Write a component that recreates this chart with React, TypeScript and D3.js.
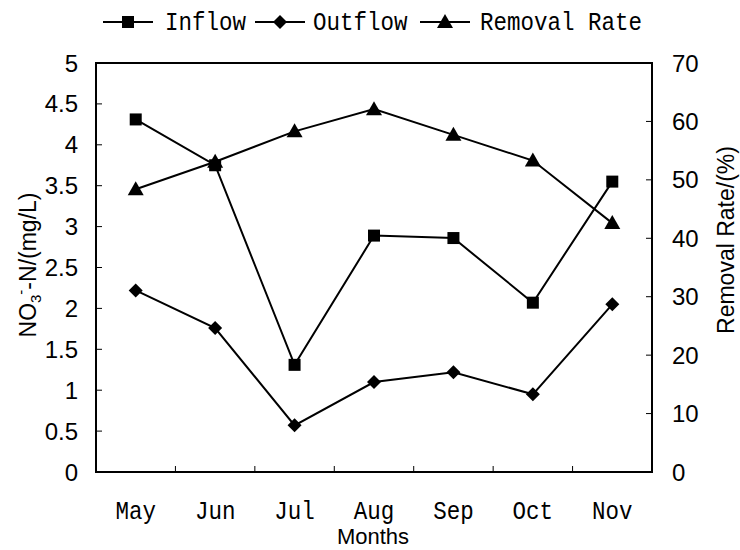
import React from "react";
import * as d3 from "d3";

const months = ["May", "Jun", "Jul", "Aug", "Sep", "Oct", "Nov"];
const inflow = [4.31, 3.75, 1.31, 2.89, 2.86, 2.07, 3.55];
const outflow = [2.22, 1.76, 0.57, 1.1, 1.22, 0.95, 2.05];
const removal = [48.4, 53.1, 58.3, 62.1, 57.7, 53.3, 42.6];
const leftTicks = [0, 0.5, 1, 1.5, 2, 2.5, 3, 3.5, 4, 4.5, 5];
const rightTicks = [0, 10, 20, 30, 40, 50, 60, 70];
const legendItems = ["Inflow", "Outflow", "Removal Rate"];

const W = 740, H = 550;
const L = 96, R = 652, T = 63, B = 472;
const monoFont = "'Liberation Mono', 'DejaVu Sans Mono', monospace";
const sansFont = "'Liberation Sans', Arial, sans-serif";

function Marker({ kind, x, y }: { kind: number; x: number; y: number }) {
  if (kind === 0) return <rect x={x - 6} y={y - 6} width={12} height={12} fill="#000" />;
  if (kind === 1) return <path d={`M${x},${y - 7}L${x + 7},${y}L${x},${y + 7}L${x - 7},${y}Z`} fill="#000" />;
  return <path d={`M${x},${y - 8}L${x + 8},${y + 6}L${x - 8},${y + 6}Z`} fill="#000" />;
}

function MonoText({ x, y, anchor, children }: { x: number; y: number; anchor?: string; children: React.ReactNode }) {
  return (
    <text transform={`translate(${x},${y}) scale(0.9,1)`} textAnchor={anchor || "start"} fontFamily={monoFont} fontSize={25} fill="#000">
      {children}
    </text>
  );
}

export default function App() {
  const x = d3.scaleBand<string>().domain(months).range([L, R]);
  const yL = d3.scaleLinear().domain([0, 5]).range([B, T]);
  const yR = d3.scaleLinear().domain([0, 70]).range([B, T]);
  const cx = (m: string) => (x(m) as number) + x.bandwidth() / 2;
  const lineL = d3.line<number>().x((_, i) => cx(months[i])).y((d) => yL(d));
  const lineR = d3.line<number>().x((_, i) => cx(months[i])).y((d) => yR(d));
  const series = [
    { data: inflow, line: lineL, y: yL },
    { data: outflow, line: lineL, y: yL },
    { data: removal, line: lineR, y: yR },
  ];
  const legendPos = [
    { x0: 103, tx: 165 },
    { x0: 255, tx: 313 },
    { x0: 420, tx: 480 },
  ];
  return (
    <svg width={W} height={H} style={{ position: "fixed", left: 0, top: 0 }}>
      <rect x={0} y={0} width={W} height={H} fill="#fff" />
      {legendItems.map((name, i) => (
        <g key={name}>
          <line x1={legendPos[i].x0} x2={legendPos[i].x0 + 50} y1={22} y2={22} stroke="#000" strokeWidth={2} />
          <Marker kind={i} x={legendPos[i].x0 + 25} y={22} />
          <MonoText x={legendPos[i].tx} y={30}>{name}</MonoText>
        </g>
      ))}
      {leftTicks.map((t) => (
        <g key={"l" + t}>
          <line x1={L} x2={L + 6} y1={yL(t)} y2={yL(t)} stroke="#000" strokeWidth={1} />
          <text x={78} y={yL(t) + 8.5} textAnchor="end" fontFamily={sansFont} fontSize={24} fill="#000">{t}</text>
        </g>
      ))}
      {rightTicks.map((t) => (
        <g key={"r" + t}>
          <line x1={R - 6} x2={R} y1={yR(t)} y2={yR(t)} stroke="#000" strokeWidth={1} />
          <text x={672} y={yR(t) + 8.5} textAnchor="start" fontFamily={sansFont} fontSize={24} fill="#000">{t}</text>
        </g>
      ))}
      {months.slice(1).map((m) => (
        <line key={"x" + m} x1={x(m) as number} x2={x(m) as number} y1={B} y2={B - 6} stroke="#000" strokeWidth={1} />
      ))}
      {months.map((m) => (
        <MonoText key={"m" + m} x={cx(m)} y={519} anchor="middle">{m}</MonoText>
      ))}
      <rect x={L} y={T} width={R - L} height={B - T} fill="none" stroke="#000" strokeWidth={2} />
      <text x={373} y={544} textAnchor="middle" fontFamily={sansFont} fontSize={22} fill="#000">Months</text>
      <text transform={`translate(36, 265) rotate(-90)`} textAnchor="middle" fontFamily={sansFont} fontSize={23} fill="#000">
        NO<tspan fontSize={15} dy={5}>3</tspan><tspan fontSize={15} dy={-15}>-</tspan><tspan dy={10}>-N/(mg/L)</tspan>
      </text>
      <text transform={`translate(734, 240) rotate(-90)`} textAnchor="middle" fontFamily={sansFont} fontSize={23} fill="#000">Removal Rate/(%)</text>
      {series.map((s, si) => (
        <g key={"s" + si}>
          <path d={s.line(s.data) as string} fill="none" stroke="#000" strokeWidth={2} />
          {s.data.map((v, i) => (
            <Marker key={i} kind={si} x={cx(months[i])} y={s.y(v)} />
          ))}
        </g>
      ))}
    </svg>
  );
}
